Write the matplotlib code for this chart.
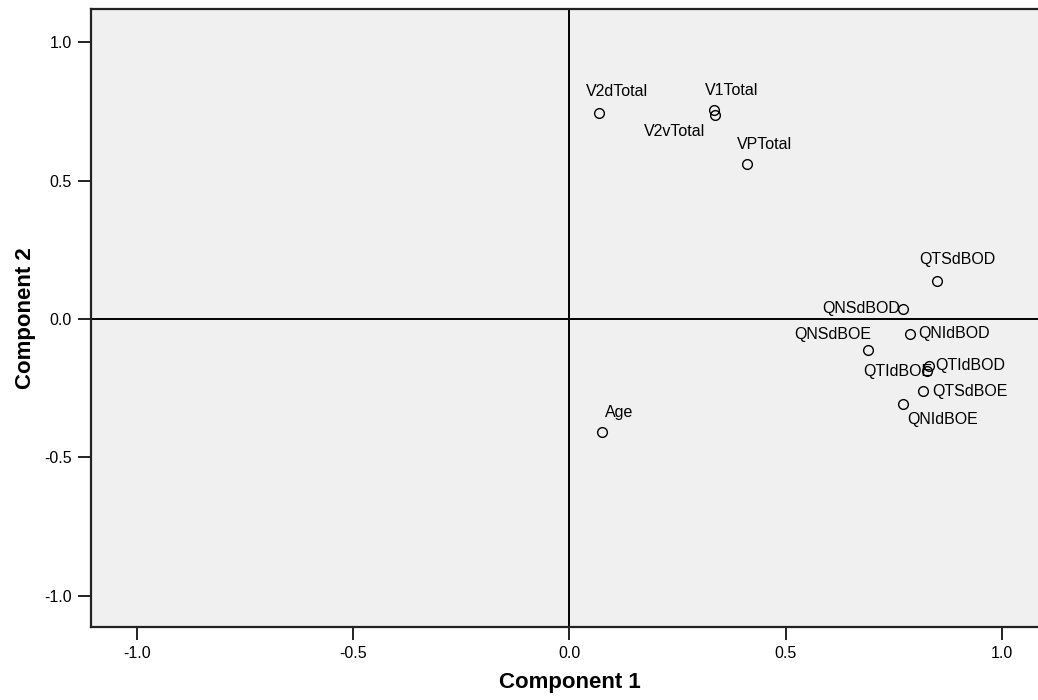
import matplotlib
matplotlib.use("Agg")
import matplotlib.pyplot as plt

# component loadings
names = ["V2dTotal", "V1Total", "V2vTotal", "VPTotal", "Age",
         "QTSdBOD", "QNSdBOD", "QNIdBOD", "QNSdBOE", "QTIdBOD",
         "QTIdBOE", "QTSdBOE", "QNIdBOE"]
comp1 = [0.069, 0.334, 0.337, 0.410, 0.075,
         0.850, 0.770, 0.787, 0.691, 0.830,
         0.826, 0.817, 0.770]
comp2 = [0.746, 0.756, 0.738, 0.560, -0.408,
         0.136, 0.037, -0.054, -0.111, -0.169,
         -0.189, -0.261, -0.306]
ticks = [-1.0, -0.5, 0.0, 0.5, 1.0]
tick_labels = ["-1.0", "-0.5", "0.0", "0.5", "1.0"]

# label placement (offset in px, horizontal alignment)
label_pos = {
    "V2dTotal": (18, 21, "center"),
    "V1Total": (18, 19, "center"),
    "V2vTotal": (-10, -17, "right"),
    "VPTotal": (18, 20, "center"),
    "Age": (17, 19, "center"),
    "QTSdBOD": (20, 22, "center"),
    "QNSdBOD": (-3, 0, "right"),
    "QNIdBOD": (8, 0, "left"),
    "QNSdBOE": (3, 15, "right"),
    "QTIdBOD": (7, 0, "left"),
    "QTIdBOE": (5, 0, "right"),
    "QTSdBOE": (9, 0, "left"),
    "QNIdBOE": (5, -16, "left"),
}

plt.rcParams["font.family"] = ["Liberation Sans", "DejaVu Sans"]

W, H = 1038, 700
fig = plt.figure(figsize=(W / 100, H / 100), dpi=100)
ax = fig.add_axes([90.7 / W, (H - 627.3) / H, 957.4 / W, 618 / H])
ax.set_facecolor("#f0f0f0")

ax.axhline(0, color="black", lw=1.4, zorder=1)
ax.axvline(0, color="black", lw=1.4, zorder=1)

ax.plot(comp1, comp2, linestyle="none", marker="o", markersize=7,
        markerfacecolor="none", markeredgecolor="black", markeredgewidth=1.0,
        zorder=3)

px = 0.72
for n, x, y in zip(names, comp1, comp2):
    dx, dy, ha = label_pos[n]
    ax.annotate(n, (x, y), xytext=(dx * px, dy * px), textcoords="offset points",
                ha=ha, va="center", fontsize=11.5, color="black", zorder=4)

ax.set_xlim(-1.106, 1.106)
ax.set_ylim(-1.115, 1.12)
ax.set_xticks(ticks)
ax.set_xticklabels(tick_labels)
ax.set_yticks(ticks)
ax.set_yticklabels(tick_labels)
ax.tick_params(direction="out", length=9.4, width=1.4, color="#222222",
               labelsize=11.5, pad=4)

for s in ["top", "right", "left", "bottom"]:
    ax.spines[s].set_linewidth(1.6)
    ax.spines[s].set_color("#222222")

lab_font = dict(weight="bold", size=16)
ax.set_xlabel("Component 1", fontdict=lab_font, labelpad=8)
ax.set_ylabel("Component 2", fontdict=lab_font, labelpad=6)

fig.savefig("out.png", dpi=100)
